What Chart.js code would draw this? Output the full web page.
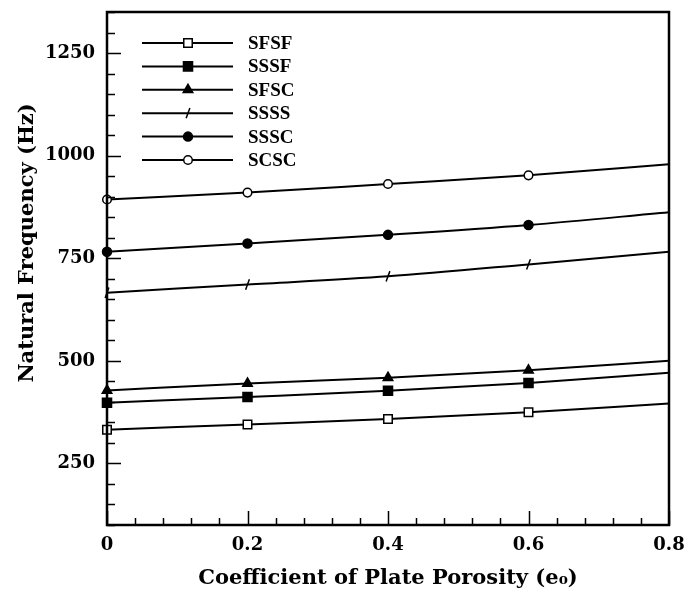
<!DOCTYPE html>
<html>
<head>
<meta charset="utf-8">
<script src="https://cdn.jsdelivr.net/npm/chart.js@4/dist/chart.umd.min.js"></script>
<style>
  html, body { margin: 0; padding: 0; background: #fff; }
  #wrap { width: 689px; height: 596px; }
</style>
</head>
<body>
<div id="wrap"><canvas id="freqChart"></canvas></div>
<script>
const porosity = [0, 0.2, 0.4, 0.6, 0.8];
const SFSF = [332, 345, 358, 375, 396];
const SSSF = [398, 412, 427, 446, 471];
const SFSC = [428, 445, 459, 477, 500];
const SSSS = [666, 686, 706, 735, 766];
const SSSC = [766, 786, 807, 831, 862];
const SCSC = [893, 910, 931, 952, 979];

const xTicks = [0, 0.2, 0.4, 0.6, 0.8];
const xTickLabels = ["0", "0.2", "0.4", "0.6", "0.8"];
const yTicks = [250, 500, 750, 1000, 1250];
const yTickLabels = ["250", "500", "750", "1000", "1250"];
const yTitle = 'Natural Frequency (Hz)';

const serifBold = '"DejaVu Serif", serif';

function series(label, values, style, filled, radius, rotation) {
  return {
    label: label,
    data: porosity.map((x, i) => ({ x: x, y: values[i] })),
    borderColor: '#000',
    borderWidth: 2,
    clip: false,
    pointStyle: style,
    pointRotation: rotation || 0,
    pointBackgroundColor: filled ? '#000' : '#fff',
    pointBorderColor: '#000',
    pointBorderWidth: 1.5,
    pointRadius: porosity.map((x, i) => i < porosity.length - 1 ? radius : 0),
    pointHoverRadius: 0,
    tension: 0.4,
    cubicInterpolationMode: 'monotone'
  };
}

// frame, inward ticks, y title and the legend box in the upper left
const framePlugin = {
  id: 'frame',
  afterDatasetsDraw(chart) {
    const ctx = chart.ctx;
    const a = chart.chartArea;
    const xs = chart.scales.x, ys = chart.scales.y;
    ctx.save();
    ctx.strokeStyle = '#000';
    ctx.lineWidth = 1.5;
    ctx.beginPath();
    for (let v = 100; v <= 1350; v += 50) {
      const y = Math.round(ys.getPixelForValue(v)) + 0.5;
      const len = yTicks.includes(v) ? 14 : 8;
      ctx.moveTo(a.left, y); ctx.lineTo(a.left + len, y);
    }
    for (let i = 0; i <= 20; i++) {
      const v = i * 0.04;
      const x = Math.round(xs.getPixelForValue(v)) + 0.5;
      const len = i % 5 === 0 ? 14 : 7;
      ctx.moveTo(x, a.bottom); ctx.lineTo(x, a.bottom - len);
    }
    ctx.stroke();
    ctx.lineWidth = 2.5;
    ctx.strokeRect(a.left, a.top, a.right - a.left, a.bottom - a.top);

    // y axis title, sits a bit above the middle like the original
    ctx.save();
    ctx.translate(28, 243);
    ctx.rotate(-Math.PI / 2);
    ctx.fillStyle = '#000';
    ctx.font = 'bold 21px ' + serifBold;
    ctx.textAlign = 'center';
    ctx.textBaseline = 'middle';
    ctx.fillText(yTitle, 0, 0);
    ctx.restore();

    // legend
    const rowY0 = 43, rowGap = 23.4;
    chart.data.datasets.forEach((ds, i) => {
      const y = rowY0 + i * rowGap;
      ctx.lineWidth = 2;
      ctx.strokeStyle = '#000';
      ctx.beginPath();
      ctx.moveTo(142, y); ctx.lineTo(233, y);
      ctx.stroke();
      ctx.fillStyle = ds.pointBackgroundColor;
      ctx.lineWidth = ds.pointBorderWidth;
      Chart.helpers.drawPoint(ctx, {
        pointStyle: ds.pointStyle,
        rotation: ds.pointRotation,
        radius: ds.pointRadius[0],
        borderWidth: ds.pointBorderWidth
      }, 188, y);
      ctx.fillStyle = '#000';
      ctx.font = 'bold 19px "Liberation Serif", serif';
      ctx.textBaseline = 'middle';
      ctx.textAlign = 'left';
      ctx.fillText(ds.label, 248, y + 1);
    });
    ctx.restore();
  }
};

new Chart(document.getElementById('freqChart'), {
  type: 'line',
  data: {
    datasets: [
      series('SFSF', SFSF, 'rect', false, 6),
      series('SSSF', SSSF, 'rect', true, 6.4),
      series('SFSC', SFSC, 'triangle', true, 5.5),
      series('SSSS', SSSS, 'line', false, 5.5, -70),
      series('SSSC', SSSC, 'circle', true, 4.5),
      series('SCSC', SCSC, 'circle', false, 4.3)
    ]
  },
  options: {
    responsive: true,
    maintainAspectRatio: false,
    animation: false,
    layout: { padding: { top: 12, right: 20, left: 0, bottom: 0 } },
    plugins: {
      legend: { display: false },
      tooltip: { enabled: false }
    },
    scales: {
      x: {
        type: 'linear',
        min: 0,
        max: 0.8,
        afterFit(scale) { scale.height = 71; scale.paddingLeft = 0; scale.paddingRight = 0; },
        afterBuildTicks(scale) { scale.ticks = xTicks.map(v => ({ value: v })); },
        grid: { display: false, drawTicks: false },
        border: { display: false },
        ticks: {
          padding: 10,
          color: '#000',
          font: { family: serifBold, size: 18, weight: 'bold' },
          callback: (v) => xTickLabels[xTicks.indexOf(v)]
        },
        title: {
          display: true,
          text: 'Coefficient of Plate Porosity (e₀)',
          color: '#000',
          font: { family: serifBold, size: 21, weight: 'bold' },
          padding: { top: 0, bottom: 5 }
        }
      },
      y: {
        type: 'linear',
        min: 100,
        max: 1350,
        afterFit(scale) { scale.width = 107; scale.paddingTop = 0; scale.paddingBottom = 0; },
        afterBuildTicks(scale) { scale.ticks = yTicks.map(v => ({ value: v })); },
        grid: { display: false, drawTicks: false },
        border: { display: false },
        ticks: {
          padding: 12,
          color: '#000',
          font: { family: serifBold, size: 18, weight: 'bold' },
          callback: (v) => yTickLabels[yTicks.indexOf(v)]
        },
        title: { display: false }
      }
    }
  },
  plugins: [framePlugin]
});
</script>
</body>
</html>
